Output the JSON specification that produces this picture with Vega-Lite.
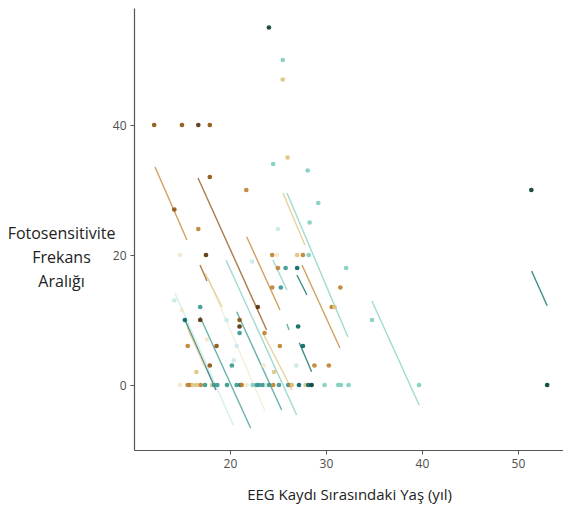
{
  "$schema": "https://vega.github.io/schema/vega-lite/v6.json",
  "width": 429,
  "height": 442,
  "autosize": "none",
  "padding": {"left": 134, "top": 8, "right": 0, "bottom": 56},
  "background": "white",
  "config": {
    "view": {"stroke": null},
    "font": "Open Sans",
    "axis": {
      "grid": false,
      "domainColor": "#555555",
      "domainWidth": 1.2,
      "tickColor": "#555555",
      "tickSize": 4,
      "labelFont": "Open Sans",
      "labelFontSize": 12,
      "labelColor": "#4d4d4d",
      "titleFont": "Open Sans",
      "titleFontSize": 15,
      "titleFontWeight": "normal",
      "titleColor": "#222222"
    }
  },
  "datasets": {
    "points": [
      {"x": 24.06, "y": 55, "g": "VDT"},
      {"x": 25.5, "y": 50, "g": "LT"},
      {"x": 25.5, "y": 47, "g": "T"},
      {"x": 12.1, "y": 40, "g": "B"},
      {"x": 15.0, "y": 40, "g": "B"},
      {"x": 16.7, "y": 40, "g": "DB"},
      {"x": 17.9, "y": 40, "g": "B"},
      {"x": 26.0, "y": 35, "g": "T"},
      {"x": 24.5, "y": 34, "g": "LT"},
      {"x": 28.1, "y": 33, "g": "LT"},
      {"x": 17.9, "y": 32, "g": "B"},
      {"x": 21.7, "y": 30, "g": "O"},
      {"x": 14.2, "y": 27, "g": "B"},
      {"x": 29.2, "y": 28, "g": "LT"},
      {"x": 28.3, "y": 25, "g": "LT"},
      {"x": 16.7, "y": 24, "g": "O"},
      {"x": 25.0, "y": 24, "g": "PT"},
      {"x": 24.4, "y": 20, "g": "O"},
      {"x": 24.9, "y": 20, "g": "BE"},
      {"x": 27.0, "y": 20, "g": "T"},
      {"x": 27.6, "y": 20, "g": "O"},
      {"x": 28.2, "y": 20, "g": "LT"},
      {"x": 14.8, "y": 20, "g": "BE"},
      {"x": 17.5, "y": 20, "g": "DB"},
      {"x": 22.3, "y": 19, "g": "PT"},
      {"x": 25.0, "y": 18, "g": "O"},
      {"x": 25.8, "y": 18, "g": "TE"},
      {"x": 27.0, "y": 18, "g": "DT"},
      {"x": 32.1, "y": 18, "g": "LT"},
      {"x": 25.3, "y": 15, "g": "TE"},
      {"x": 24.4, "y": 15, "g": "O"},
      {"x": 31.5, "y": 15, "g": "O"},
      {"x": 22.9, "y": 12, "g": "DB"},
      {"x": 30.6, "y": 12, "g": "O"},
      {"x": 30.9, "y": 12, "g": "T"},
      {"x": 14.2, "y": 13, "g": "PT"},
      {"x": 15.0, "y": 11.5, "g": "BE"},
      {"x": 16.9, "y": 12, "g": "TE"},
      {"x": 15.3, "y": 10, "g": "DT"},
      {"x": 16.9, "y": 10, "g": "DB"},
      {"x": 19.65, "y": 10, "g": "PT"},
      {"x": 21.0, "y": 10, "g": "B"},
      {"x": 21.0, "y": 9, "g": "DB"},
      {"x": 21.0, "y": 8, "g": "TE"},
      {"x": 23.6, "y": 8, "g": "O"},
      {"x": 27.1, "y": 9, "g": "DT"},
      {"x": 34.8, "y": 10, "g": "LT"},
      {"x": 15.6, "y": 6, "g": "O"},
      {"x": 17.6, "y": 7, "g": "BE"},
      {"x": 18.6, "y": 6, "g": "B"},
      {"x": 20.7, "y": 6, "g": "PT"},
      {"x": 20.4, "y": 3.8, "g": "PT"},
      {"x": 25.2, "y": 6, "g": "O"},
      {"x": 27.6, "y": 6, "g": "DT"},
      {"x": 28.8, "y": 3, "g": "O"},
      {"x": 30.3, "y": 3, "g": "O"},
      {"x": 26.9, "y": 3, "g": "PT"},
      {"x": 23.5, "y": 3, "g": "BE"},
      {"x": 24.6, "y": 2, "g": "T"},
      {"x": 17.9, "y": 3, "g": "B"},
      {"x": 20.2, "y": 3, "g": "TE"},
      {"x": 16.5, "y": 2, "g": "T"},
      {"x": 51.4, "y": 30, "g": "VDT"},
      {"x": 53.05, "y": 0, "g": "VDT"},
      {"x": 39.7, "y": 0, "g": "LT"},
      {"x": 14.79, "y": 0, "g": "BE"},
      {"x": 15.59, "y": 0, "g": "O"},
      {"x": 15.83, "y": 0, "g": "O"},
      {"x": 16.15, "y": 0, "g": "T"},
      {"x": 16.53, "y": 0, "g": "T"},
      {"x": 16.95, "y": 0, "g": "O"},
      {"x": 17.4, "y": 0, "g": "TE"},
      {"x": 18.13, "y": 0, "g": "T"},
      {"x": 18.33, "y": 0, "g": "TE"},
      {"x": 18.68, "y": 0, "g": "TE"},
      {"x": 19.69, "y": 0, "g": "TE"},
      {"x": 20.7, "y": 0, "g": "TE"},
      {"x": 21.11, "y": 0, "g": "DT"},
      {"x": 21.22, "y": 0, "g": "O"},
      {"x": 21.74, "y": 0, "g": "BE"},
      {"x": 22.36, "y": 0, "g": "LT"},
      {"x": 22.78, "y": 0, "g": "TE"},
      {"x": 23.02, "y": 0, "g": "TE"},
      {"x": 23.41, "y": 0, "g": "TE"},
      {"x": 23.82, "y": 0, "g": "PT"},
      {"x": 24.09, "y": 0, "g": "TE"},
      {"x": 24.51, "y": 0, "g": "O"},
      {"x": 25.1, "y": 0, "g": "TE"},
      {"x": 26.07, "y": 0, "g": "TE"},
      {"x": 26.32, "y": 0, "g": "O"},
      {"x": 26.46, "y": 0, "g": "T"},
      {"x": 27.19, "y": 0, "g": "DT"},
      {"x": 27.89, "y": 0, "g": "T"},
      {"x": 28.16, "y": 0, "g": "DT"},
      {"x": 28.51, "y": 0, "g": "VDT"},
      {"x": 29.86, "y": 0, "g": "LT"},
      {"x": 31.28, "y": 0, "g": "LT"},
      {"x": 31.56, "y": 0, "g": "LT"},
      {"x": 32.36, "y": 0, "g": "LT"}
    ],
    "lines": [
      {"id": "L1", "g": "O", "x": 12.19, "y": 33.54}, {"id": "L1", "g": "O", "x": 15.52, "y": 22.31},
      {"id": "L2", "g": "B", "x": 16.67, "y": 31.85}, {"id": "L2", "g": "B", "x": 23.82, "y": 8.46},
      {"id": "L3", "g": "B", "x": 16.88, "y": 18.46}, {"id": "L3", "g": "B", "x": 17.6, "y": 16.0},
      {"id": "L4", "g": "O", "x": 21.74, "y": 22.82}, {"id": "L4", "g": "O", "x": 25.21, "y": 11.54},
      {"id": "L5", "g": "T", "x": 23.44, "y": 8.0}, {"id": "L5", "g": "T", "x": 26.46, "y": -0.77},
      {"id": "L6a", "g": "T", "x": 25.52, "y": 29.54}, {"id": "L6a", "g": "T", "x": 27.81, "y": 21.54},
      {"id": "L6b", "g": "LT", "x": 25.94, "y": 29.54}, {"id": "L6b", "g": "LT", "x": 32.29, "y": 7.38},
      {"id": "L7", "g": "O", "x": 27.5, "y": 18.46}, {"id": "L7", "g": "O", "x": 31.46, "y": 5.69},
      {"id": "L8", "g": "LT", "x": 24.48, "y": 19.23}, {"id": "L8", "g": "LT", "x": 25.94, "y": 14.62},
      {"id": "L9", "g": "DT", "x": 26.98, "y": 16.92}, {"id": "L9", "g": "DT", "x": 28.02, "y": 13.85},
      {"id": "L10", "g": "TE", "x": 25.94, "y": 9.38}, {"id": "L10", "g": "TE", "x": 26.15, "y": 8.46},
      {"id": "L11", "g": "DT", "x": 27.22, "y": 6.51}, {"id": "L11", "g": "DT", "x": 28.51, "y": 2.05},
      {"id": "L12", "g": "LT", "x": 34.79, "y": 12.92}, {"id": "L12", "g": "LT", "x": 39.72, "y": -3.12},
      {"id": "L13", "g": "DT", "x": 51.43, "y": 17.54}, {"id": "L13", "g": "DT", "x": 53.05, "y": 12.2},
      {"id": "L14", "g": "PT", "x": 14.27, "y": 14.11}, {"id": "L14", "g": "PT", "x": 20.34, "y": -6.15},
      {"id": "L15", "g": "DT", "x": 15.31, "y": 10.0}, {"id": "L15", "g": "DT", "x": 18.54, "y": -0.77},
      {"id": "L16", "g": "TE", "x": 16.88, "y": 10.51}, {"id": "L16", "g": "TE", "x": 22.16, "y": -6.66},
      {"id": "L17", "g": "TE", "x": 20.7, "y": 11.28}, {"id": "L17", "g": "TE", "x": 25.39, "y": -3.85},
      {"id": "L18", "g": "LT", "x": 19.58, "y": 19.23}, {"id": "L18", "g": "LT", "x": 26.95, "y": -4.62},
      {"id": "L19", "g": "BE", "x": 17.71, "y": 16.46}, {"id": "L19", "g": "BE", "x": 23.65, "y": -4.0},
      {"id": "L21", "g": "T", "x": 17.4, "y": 17.23}, {"id": "L21", "g": "T", "x": 19.17, "y": 12.0},
      {"id": "L22", "g": "T", "x": 15.52, "y": 8.92}, {"id": "L22", "g": "T", "x": 17.4, "y": 2.77}
    ]
  },
  "encoding": {
    "x": {
      "field": "x", "type": "quantitative",
      "scale": {"domain": [10, 54.7], "nice": false, "zero": false},
      "axis": {"values": [20, 30, 40, 50], "title": "EEG Kaydı Sırasındaki Yaş (yıl)", "titlePadding": 18, "titleX": 215, "titleAlign": "center", "labelPadding": 4}
    },
    "y": {
      "field": "y", "type": "quantitative",
      "scale": {"domain": [-10, 58], "nice": false, "zero": false},
      "axis": {
        "values": [0, 20, 40],
        "title": ["Fotosensitivite", "Frekans", "Aralığı"],
        "titleAngle": 0,
        "titleAlign": "center",
        "titleBaseline": "middle",
        "titleFontSize": 16,
        "titleX": -73,
        "titleY": 225,
        "titleLineHeight": 24,
        "labelPadding": 4
      }
    },
    "color": {
      "field": "g", "type": "nominal", "legend": null,
      "scale": {
        "domain": ["DB", "B", "O", "T", "BE", "PT", "LT", "TE", "DT", "VDT"],
        "range": ["#543005", "#8c510a", "#bf812d", "#dfc27d", "#f3e8cc", "#c7eae5", "#80cdc1", "#35978f", "#01665e", "#003c30"]
      }
    }
  },
  "layer": [
    {
      "data": {"name": "lines"},
      "mark": {"type": "line", "strokeWidth": 1.4, "opacity": 0.75},
      "encoding": {"detail": {"field": "id", "type": "nominal"}}
    },
    {
      "data": {"name": "points"},
      "mark": {"type": "circle", "size": 22, "opacity": 0.9}
    }
  ]
}
